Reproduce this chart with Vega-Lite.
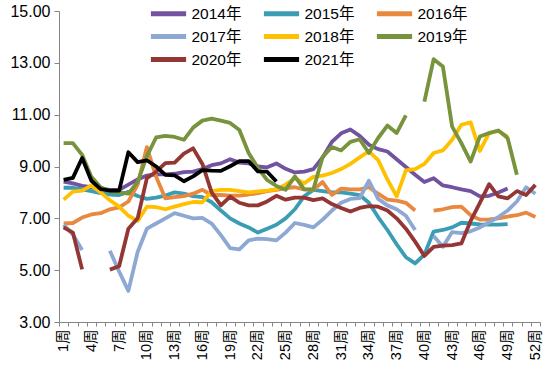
{
  "$schema": "https://vega.github.io/schema/vega-lite/v6.json",
  "width": 481,
  "height": 311,
  "autosize": {"type": "none"},
  "padding": {"left": 59, "top": 11, "right": 10, "bottom": 51},
  "background": "white",
  "config": {"view": {"stroke": null}, "font": "Liberation Sans, Noto Sans CJK SC"},
  "data": {"values": [
    {"w":1,"2014年":8.42,"2015年":8.18,"2016年":6.80,"2017年":6.75,"2018年":7.72,"2019年":9.90,"2020年":6.65,"2021年":8.48},
    {"w":2,"2014年":8.35,"2015年":8.18,"2016年":6.82,"2017年":6.38,"2018年":8.03,"2019年":9.90,"2020年":6.45,"2021年":8.56},
    {"w":3,"2014年":8.25,"2015年":8.12,"2016年":7.03,"2017年":5.78,"2018年":8.07,"2019年":9.45,"2020年":5.03,"2021年":9.33},
    {"w":4,"2014年":8.20,"2015年":8.05,"2016年":7.15,"2017年":null,"2018年":8.27,"2019年":8.60,"2020年":null,"2021年":8.45},
    {"w":5,"2014年":8.15,"2015年":7.97,"2016年":7.20,"2017年":null,"2018年":8.00,"2019年":8.20,"2020年":null,"2021年":8.13},
    {"w":6,"2014年":8.10,"2015年":7.92,"2016年":7.35,"2017年":5.75,"2018年":7.70,"2019年":8.05,"2020年":5.02,"2021年":8.07},
    {"w":7,"2014年":8.10,"2015年":7.90,"2016年":7.42,"2017年":4.95,"2018年":7.45,"2019年":8.00,"2020年":5.15,"2021年":8.07},
    {"w":8,"2014年":8.30,"2015年":8.02,"2016年":7.65,"2017年":4.20,"2018年":7.10,"2019年":7.95,"2020年":6.60,"2021年":9.55},
    {"w":9,"2014年":8.50,"2015年":7.86,"2016年":8.30,"2017年":5.70,"2018年":6.90,"2019年":8.40,"2020年":7.00,"2021年":9.17},
    {"w":10,"2014年":8.65,"2015年":7.75,"2016年":9.75,"2017年":6.60,"2018年":7.45,"2019年":9.40,"2020年":8.55,"2021年":9.24},
    {"w":11,"2014年":8.70,"2015年":7.80,"2016年":8.60,"2017年":6.80,"2018年":7.43,"2019年":10.12,"2020年":8.80,"2021年":9.00},
    {"w":12,"2014年":8.70,"2015年":7.88,"2016年":7.77,"2017年":7.00,"2018年":7.35,"2019年":10.18,"2020年":9.13,"2021年":8.68},
    {"w":13,"2014年":8.72,"2015年":8.00,"2016年":7.82,"2017年":7.20,"2018年":7.45,"2019年":10.14,"2020年":9.15,"2021年":8.66},
    {"w":14,"2014年":8.78,"2015年":7.95,"2016年":7.86,"2017年":7.10,"2018年":7.55,"2019年":10.03,"2020年":9.50,"2021年":8.43},
    {"w":15,"2014年":8.80,"2015年":7.86,"2016年":7.95,"2017年":7.00,"2018年":7.63,"2019年":10.50,"2020年":9.70,"2021年":8.62},
    {"w":16,"2014年":8.90,"2015年":7.82,"2016年":8.10,"2017年":7.02,"2018年":7.62,"2019年":10.77,"2020年":9.10,"2021年":8.86},
    {"w":17,"2014年":9.05,"2015年":7.62,"2016年":7.90,"2017年":6.80,"2018年":8.05,"2019年":10.85,"2020年":8.00,"2021年":8.84},
    {"w":18,"2014年":9.12,"2015年":7.30,"2016年":7.90,"2017年":6.35,"2018年":8.10,"2019年":10.77,"2020年":7.50,"2021年":8.83},
    {"w":19,"2014年":9.28,"2015年":7.00,"2016年":7.88,"2017年":5.85,"2018年":8.10,"2019年":10.68,"2020年":7.84,"2021年":9.01},
    {"w":20,"2014年":9.15,"2015年":6.80,"2016年":7.88,"2017年":5.80,"2018年":8.05,"2019年":10.41,"2020年":7.60,"2021年":9.21},
    {"w":21,"2014年":9.12,"2015年":6.65,"2016年":7.92,"2017年":6.15,"2018年":8.00,"2019年":9.52,"2020年":7.50,"2021年":9.21},
    {"w":22,"2014年":9.00,"2015年":6.45,"2016年":7.97,"2017年":6.22,"2018年":8.04,"2019年":8.95,"2020年":7.50,"2021年":8.81},
    {"w":23,"2014年":8.97,"2015年":6.60,"2016年":8.05,"2017年":6.20,"2018年":8.07,"2019年":8.48,"2020年":7.65,"2021年":8.80},
    {"w":24,"2014年":9.12,"2015年":6.75,"2016年":8.10,"2017年":6.15,"2018年":8.12,"2019年":8.25,"2020年":7.87,"2021年":8.42},
    {"w":25,"2014年":8.91,"2015年":7.00,"2016年":8.17,"2017年":6.45,"2018年":8.30,"2019年":8.10,"2020年":7.72,"2021年":null},
    {"w":26,"2014年":8.77,"2015年":7.35,"2016年":8.20,"2017年":6.82,"2018年":8.55,"2019年":8.62,"2020年":7.80,"2021年":null},
    {"w":27,"2014年":8.80,"2015年":7.85,"2016年":8.12,"2017年":6.75,"2018年":8.35,"2019年":8.12,"2020年":7.80,"2021年":null},
    {"w":28,"2014年":8.90,"2015年":8.10,"2016年":8.10,"2017年":6.65,"2018年":8.60,"2019年":8.12,"2020年":7.70,"2021年":null},
    {"w":29,"2014年":9.35,"2015年":8.05,"2016年":8.40,"2017年":6.95,"2018年":8.65,"2019年":9.37,"2020年":7.77,"2021年":null},
    {"w":30,"2014年":9.95,"2015年":8.00,"2016年":7.90,"2017年":7.30,"2018年":8.75,"2019年":9.75,"2020年":7.55,"2021年":null},
    {"w":31,"2014年":10.28,"2015年":8.00,"2016年":8.15,"2017年":7.60,"2018年":8.90,"2019年":9.62,"2020年":7.40,"2021年":null},
    {"w":32,"2014年":10.43,"2015年":7.95,"2016年":8.12,"2017年":7.75,"2018年":9.10,"2019年":9.95,"2020年":7.26,"2021年":null},
    {"w":33,"2014年":10.18,"2015年":7.90,"2016年":8.12,"2017年":7.78,"2018年":9.35,"2019年":10.05,"2020年":7.40,"2021年":null},
    {"w":34,"2014年":9.84,"2015年":7.60,"2016年":8.20,"2017年":8.45,"2018年":9.58,"2019年":9.52,"2020年":7.47,"2021年":null},
    {"w":35,"2014年":9.67,"2015年":7.05,"2016年":7.95,"2017年":7.75,"2018年":9.25,"2019年":10.10,"2020年":7.45,"2021年":null},
    {"w":36,"2014年":9.58,"2015年":6.55,"2016年":7.72,"2017年":7.50,"2018年":8.50,"2019年":10.58,"2020年":7.30,"2021年":null},
    {"w":37,"2014年":9.28,"2015年":6.00,"2016年":7.68,"2017年":7.35,"2018年":7.85,"2019年":10.29,"2020年":7.00,"2021年":null},
    {"w":38,"2014年":8.98,"2015年":5.50,"2016年":7.60,"2017年":7.10,"2018年":8.85,"2019年":10.97,"2020年":6.60,"2021年":null},
    {"w":39,"2014年":8.68,"2015年":5.26,"2016年":7.30,"2017年":6.55,"2018年":8.90,"2019年":null,"2020年":6.10,"2021年":null},
    {"w":40,"2014年":8.40,"2015年":5.60,"2016年":null,"2017年":null,"2018年":9.10,"2019年":11.50,"2020年":5.55,"2021年":null},
    {"w":41,"2014年":8.55,"2015年":6.49,"2016年":7.30,"2017年":6.32,"2018年":9.52,"2019年":13.14,"2020年":5.90,"2021年":null},
    {"w":42,"2014年":8.27,"2015年":6.55,"2016年":7.35,"2017年":5.90,"2018年":9.62,"2019年":12.86,"2020年":5.95,"2021年":null},
    {"w":43,"2014年":8.20,"2015年":6.65,"2016年":7.43,"2017年":6.47,"2018年":10.03,"2019年":10.54,"2020年":5.97,"2021年":null},
    {"w":44,"2014年":8.12,"2015年":6.83,"2016年":7.45,"2017年":6.43,"2018年":10.61,"2019年":9.90,"2020年":6.03,"2021年":null},
    {"w":45,"2014年":8.05,"2015年":6.80,"2016年":7.12,"2017年":6.50,"2018年":10.70,"2019年":9.19,"2020年":6.90,"2021年":null},
    {"w":46,"2014年":7.85,"2015年":6.77,"2016年":6.95,"2017年":6.65,"2018年":9.60,"2019年":10.16,"2020年":7.60,"2021年":null},
    {"w":47,"2014年":7.87,"2015年":6.76,"2016年":6.96,"2017年":6.85,"2018年":10.30,"2019年":10.29,"2020年":8.32,"2021年":null},
    {"w":48,"2014年":8.00,"2015年":6.76,"2016年":7.00,"2017年":7.05,"2018年":10.37,"2019年":10.39,"2020年":7.85,"2021年":null},
    {"w":49,"2014年":8.15,"2015年":6.78,"2016年":7.07,"2017年":7.30,"2018年":10.15,"2019年":10.10,"2020年":7.77,"2021年":null},
    {"w":50,"2014年":null,"2015年":null,"2016年":7.12,"2017年":7.65,"2018年":null,"2019年":8.68,"2020年":8.05,"2021年":null},
    {"w":51,"2014年":null,"2015年":null,"2016年":7.22,"2017年":8.20,"2018年":null,"2019年":null,"2020年":7.90,"2021年":null},
    {"w":52,"2014年":null,"2015年":null,"2016年":7.05,"2017年":7.95,"2018年":null,"2019年":null,"2020年":8.29,"2021年":null}
  ]},
  "transform": [
    {"fold": ["2014年","2015年","2016年","2017年","2018年","2019年","2020年","2021年"], "as": ["year","value"]}
  ],
  "mark": {"type": "line", "strokeWidth": 3.8, "invalid": "break-paths-filter-domains", "strokeJoin": "round"},
  "encoding": {
    "x": {
      "field": "w", "type": "ordinal",
      "scale": {"type": "band", "paddingInner": 0, "paddingOuter": 0},
      "axis": {
        "title": null,
        "labelExpr": "(datum.value - 1) % 3 == 0 ? datum.value + '周' : ''",
        "labelAngle": 270,
        "labelFontSize": 14.5,
        "labelColor": "#000000",
        "labelPadding": 3,
        "tickBand": "extent",
        "tickSize": 4,
        "tickColor": "#868686",
        "domainColor": "#868686",
        "labelOverlap": false
      }
    },
    "y": {
      "field": "value", "type": "quantitative",
      "scale": {"domain": [3, 15], "nice": false, "zero": false},
      "axis": {
        "title": null,
        "values": [3, 5, 7, 9, 11, 13, 15],
        "format": ".2f",
        "grid": false,
        "labelFontSize": 16,
        "labelColor": "#000000",
        "labelPadding": 4,
        "tickSize": 5,
        "tickColor": "#868686",
        "domainColor": "#868686"
      }
    },
    "color": {
      "field": "year", "type": "nominal",
      "scale": {
        "domain": ["2014年","2015年","2016年","2017年","2018年","2019年","2020年","2021年"],
        "range": ["#7153A0","#3A9DB3","#E9883F","#8EA8D4","#FFC000","#77933C","#943634","#000000"]
      },
      "legend": {
        "title": null,
        "orient": "none",
        "legendX": 99,
        "legendY": -8,
        "padding": 0,
        "direction": "horizontal",
        "columns": 3,
        "symbolType": "M-2.2,0H2.2",
        "symbolSize": 256,
        "symbolStrokeWidth": 5,
        "labelFontSize": 15.5,
        "labelColor": "#000000",
        "labelOffset": 12.5,
        "columnPadding": 11,
        "rowPadding": 2
      }
    }
  }
}
